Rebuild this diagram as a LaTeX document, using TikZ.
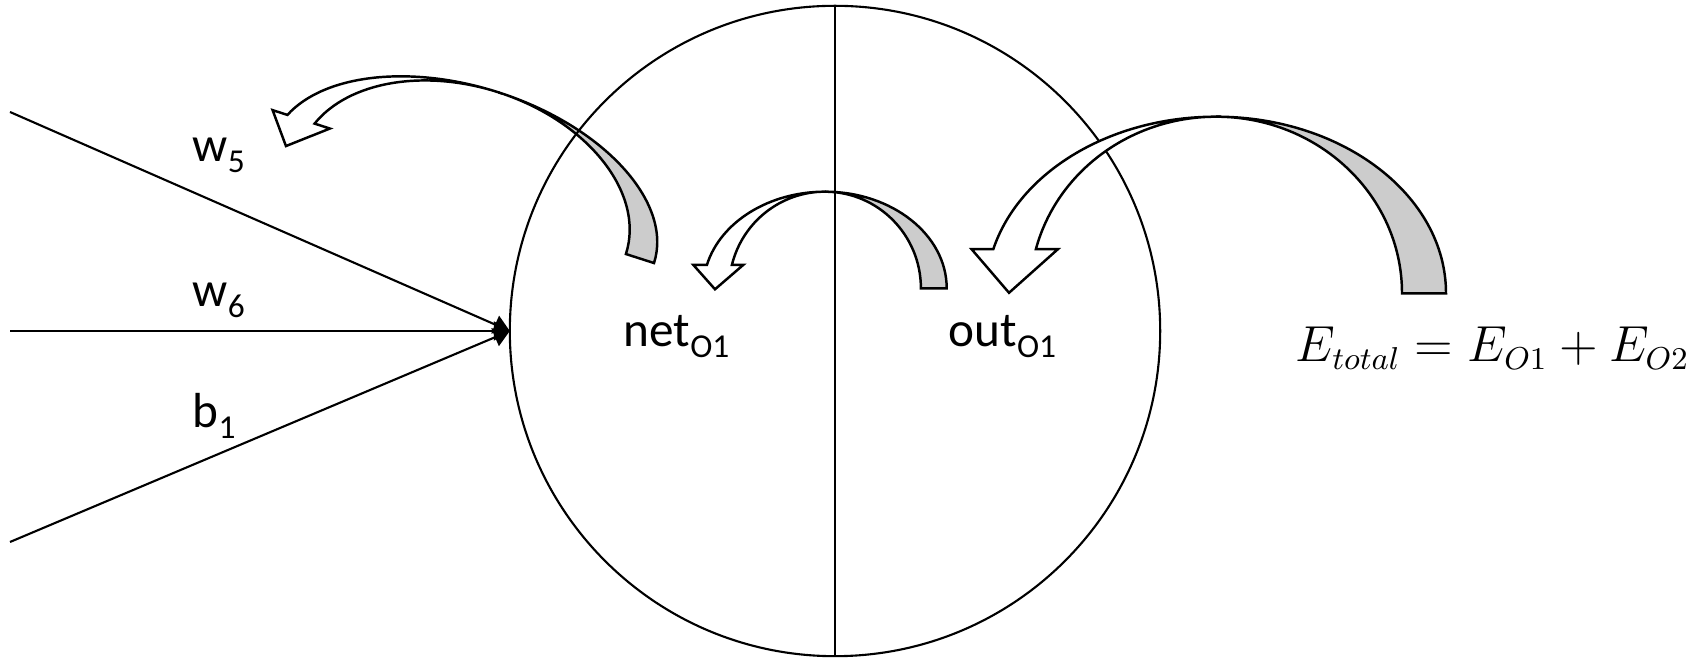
\documentclass[tikz,border=0pt]{standalone}
\usepackage{fontspec}
\setmainfont{Carlito}
\usepackage{amsmath}
\usetikzlibrary{positioning, arrows.meta}

\newcommand{\lowsub}[1]{\raisebox{-0.22em}{\fontsize{9.5}{11}\selectfont #1}}

\begin{document}
\begin{tikzpicture}[
    x=0.01cm, y=0.01cm,
    wire/.style={-{Triangle[length=0.16cm, width=0.19cm]}, line width=0.6pt},
    band/.style={draw, line width=0.7pt, fill=white, line join=miter},
    fold/.style={band, fill=black!20},
    lbl/.style={anchor=base west, inner sep=0pt, font=\fontsize{14}{17}\selectfont},
]
\useasboundingbox (0,0) rectangle (1691,664);

% arrow from net back to the weights
\begin{scope}[shift={(463.2,462.2)}, rotate=-17.8]
\filldraw[fold] (200.4,0) arc[start angle=0, end angle=90, x radius=200.4, y radius=115]
    arc[start angle=90, end angle=0, x radius=170.9, y radius=115] -- cycle;
\filldraw[band] (0,115) arc[start angle=90, end angle=165.4, x radius=200.4, y radius=115]
    -- (-209.5,29) -- (-185.8,-1.1) -- (-149.3,29) -- (-165.4,29)
    arc[start angle=165.4, end angle=90, x radius=170.9, y radius=115] -- cycle;
\end{scope}

\node[circle, draw, line width=0.6pt, minimum size=6.5cm, inner sep=0pt, outer sep=0pt] (neuron) at (835,333) {};
\draw[line width=0.6pt] (neuron.north) -- (neuron.south);

\coordinate (w5in) at (10,552);
\coordinate (w6in) at (10,333);
\coordinate (b1in) at (10,122);

\draw[wire] (w5in) -- (neuron.west);
\draw[wire] (w6in) -- (neuron.west);
\draw[wire] (b1in) -- (neuron.west);

% arrow from out back to net
\begin{scope}[shift={(825,375.7)}]
\filldraw[fold] (121.7,0) arc[start angle=0, end angle=90, x radius=121.7, y radius=96.6]
    arc[start angle=90, end angle=0, x radius=95.9, y radius=96.6] -- cycle;
\filldraw[band] (0,96.6) arc[start angle=90, end angle=166, x radius=121.7, y radius=96.6]
    -- (-131.7,23.4) -- (-110,-1) -- (-81.7,23.4) -- (-93.1,23.4)
    arc[start angle=166, end angle=90, x radius=95.9, y radius=96.6] -- cycle;
\end{scope}

% arrow from the error back to out
\begin{scope}[shift={(1216,370.7)}]
\filldraw[fold] (230,0) arc[start angle=0, end angle=90, x radius=230, y radius=176.6]
    arc[start angle=90, end angle=0, x radius=186, y radius=176.6] -- cycle;
\filldraw[band] (0,176.6) arc[start angle=90, end angle=165.5, x radius=230, y radius=176.6]
    -- (-244.5,44.2) -- (-207,0.5) -- (-158,44.2) -- (-180.1,44.2)
    arc[start angle=165.5, end angle=90, x radius=186, y radius=176.6] -- cycle;
\end{scope}

\node[lbl] (w5) at (192,502.3) {w\lowsub{5}};
\node[lbl] (w6) at (192,357.3) {w\lowsub{6}};
\node[lbl] (b1) at (192,236) {b\lowsub{1}};
\node[lbl] (net) at (623,317.3) {net\lowsub{O1}};
\node[lbl] (out) at (948,317.3) {out\lowsub{O1}};
\node[lbl, font=\fontsize{13.5}{16}\selectfont] (etotal) at (1295,302.3) {$E_{total} = E_{O1} + E_{O2}$};

\end{tikzpicture}
\end{document}
